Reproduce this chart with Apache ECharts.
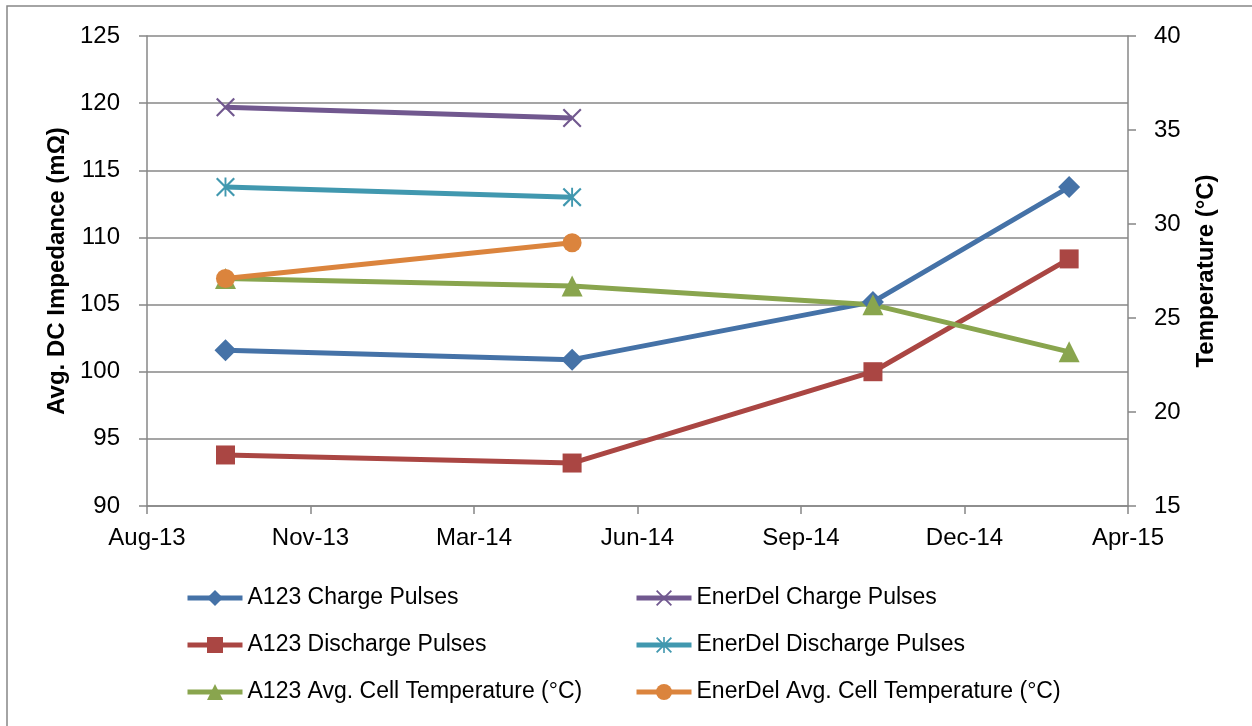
<!DOCTYPE html>
<html>
<head>
<meta charset="utf-8">
<script src="https://cdn.jsdelivr.net/npm/echarts@6/dist/echarts.min.js"></script>
<style>
  html, body { margin: 0; padding: 0; background: #fff; }
  #chart { width: 1252px; height: 726px; }
</style>
</head>
<body>
<div id="chart"></div>
<script>
// test dates (x axis is a date axis in days, Excel style)
var testDates = ["2013-10-01", "2014-05-01", "2014-11-01", "2015-03-01"];

// impedance, mOhm (left axis)
var a123Charge = [101.6, 100.9, 105.2, 113.75];
var a123Discharge = [93.8, 93.2, 100.0, 108.4];
var enerdelCharge = [119.7, 118.9, null, null];
var enerdelDischarge = [113.75, 113.0, null, null];

// temperature, degC (right axis)
var a123Temp = [27.1, 26.7, 25.7, 23.2];
var enerdelTemp = [27.1, 29.0, null, null];

// axis ranges
var xMin = 41500, xMax = 42100, xStep = 100;   // excel day serials
var leftMin = 90, leftMax = 125, leftStep = 5;
var rightMin = 15, rightMax = 40, rightStep = 5;

var monthNames = ["Jan", "Feb", "Mar", "Apr", "May", "Jun", "Jul", "Aug", "Sep", "Oct", "Nov", "Dec"];

function toSerial(s) {
  var p = s.split("-");
  return Date.UTC(+p[0], +p[1] - 1, +p[2]) / 86400000 + 25569;
}
function serialLabel(v) {
  var d = new Date((v - 25569) * 86400000);
  return monthNames[d.getUTCMonth()] + "-" + String(d.getUTCFullYear()).slice(2);
}
function pairs(vals) {
  var out = [];
  for (var i = 0; i < vals.length; i++) {
    if (vals[i] != null) out.push([toSerial(testDates[i]), vals[i]]);
  }
  return out;
}

var xMark = "path://M1.6,0 L10,8.4 L18.4,0 L20,1.6 L11.6,10 L20,18.4 L18.4,20 L10,11.6 L1.6,20 L0,18.4 L8.4,10 L0,1.6 Z";
var starMark = xMark + " M9,0 L11,0 L11,20 L9,20 Z";

var fontFam = "'Liberation Sans', Arial, sans-serif";
var gridColor = "#878787";

function lineSeries(name, vals, color, symbol, size, yIdx) {
  return {
    name: name,
    type: "line",
    yAxisIndex: yIdx,
    data: pairs(vals),
    symbol: symbol,
    symbolSize: size,
    showAllSymbol: true,
    lineStyle: { color: color, width: 5 },
    itemStyle: { color: color, borderWidth: 0 },
    emphasis: { disabled: true },
    animation: false
  };
}

var chart = echarts.init(document.getElementById("chart"));

var legendText = { fontFamily: fontFam, fontSize: 23, color: "#000", lineHeight: 24 };

function legendCol(left, names) {
  return {
    orient: "vertical",
    left: left,
    top: 586,
    padding: 0,
    itemWidth: 55,
    itemHeight: 20,
    itemGap: 23,
    lineStyle: { width: 5 },
    textStyle: legendText,
    data: names
  };
}

var option = {
  backgroundColor: "#fff",
  graphic: [{
    type: "rect",
    shape: { x: 7, y: 6, width: 1400, height: 900 },
    style: { fill: "none", stroke: gridColor, lineWidth: 1.5 },
    silent: true
  }],
  grid: { left: 147, right: 124, top: 36, bottom: 220 },
  legend: [
    legendCol(185, ["A123 Charge Pulses", "A123 Discharge Pulses", "A123 Avg. Cell Temperature (°C)"]),
    legendCol(634, ["EnerDel Charge Pulses", "EnerDel Discharge Pulses", "EnerDel Avg. Cell Temperature (°C)"])
  ],
  xAxis: {
    type: "value",
    min: xMin,
    max: xMax,
    interval: xStep,
    axisLine: { show: true, lineStyle: { color: gridColor, width: 1.5 } },
    axisTick: { show: true, length: 8, lineStyle: { color: gridColor, width: 1.5 } },
    splitLine: { show: false },
    axisLabel: {
      margin: 20,
      fontFamily: fontFam,
      fontSize: 24,
      color: "#000",
      formatter: serialLabel
    }
  },
  yAxis: [
    {
      type: "value",
      min: leftMin,
      max: leftMax,
      interval: leftStep,
      name: "Avg. DC Impedance (mΩ)",
      nameLocation: "middle",
      nameGap: 77,
      nameTextStyle: { fontFamily: fontFam, fontSize: 24, fontWeight: "bold", color: "#000" },
      axisLine: { show: true, lineStyle: { color: gridColor, width: 1.5 } },
      axisTick: { show: true, length: 8, lineStyle: { color: gridColor, width: 1.5 } },
      splitLine: { show: true, lineStyle: { color: gridColor, width: 1.5 } },
      axisLabel: { margin: 27, fontFamily: fontFam, fontSize: 24, color: "#000" }
    },
    {
      type: "value",
      position: "right",
      min: rightMin,
      max: rightMax,
      interval: rightStep,
      name: "Temperature (°C)",
      nameLocation: "middle",
      nameGap: 66,
      nameTextStyle: { fontFamily: fontFam, fontSize: 24, fontWeight: "bold", color: "#000" },
      axisLine: { show: true, lineStyle: { color: gridColor, width: 1.5 } },
      axisTick: { show: true, length: 8, lineStyle: { color: gridColor, width: 1.5 } },
      splitLine: { show: false },
      axisLabel: { margin: 26, fontFamily: fontFam, fontSize: 24, color: "#000" }
    }
  ],
  series: [
    lineSeries("A123 Charge Pulses", a123Charge, "#4572A7", "diamond", 22, 0),
    lineSeries("A123 Discharge Pulses", a123Discharge, "#AA4643", "rect", 19, 0),
    lineSeries("EnerDel Charge Pulses", enerdelCharge, "#71588F", xMark, 19, 0),
    lineSeries("EnerDel Discharge Pulses", enerdelDischarge, "#4198AF", starMark, 19, 0),
    lineSeries("A123 Avg. Cell Temperature (°C)", a123Temp, "#89A54E", "triangle", 21, 1),
    lineSeries("EnerDel Avg. Cell Temperature (°C)", enerdelTemp, "#DB843D", "circle", 19, 1)
  ]
};

chart.setOption(option);
</script>
</body>
</html>
